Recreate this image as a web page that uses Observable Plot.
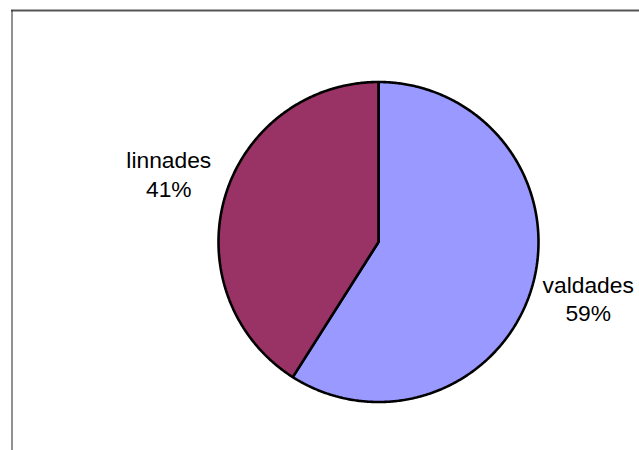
<!DOCTYPE html>
<html>
<head>
<meta charset="utf-8">
<script src="https://cdn.jsdelivr.net/npm/d3@7"></script>
<script src="https://cdn.jsdelivr.net/npm/@observablehq/plot@0.6"></script>
<style>
  html, body { margin: 0; padding: 0; background: #fff; }
  #chart { width: 639px; height: 450px; }
</style>
</head>
<body>
<div id="chart"></div>
<script>
const categories = ["valdades", "linnades"];
const values = [59, 41];
const percentLabels = ["59%", "41%"];
const colors = ["#9999FF", "#993366"];

const rows = categories.map((name, i) => ({name, value: values[i], label: percentLabels[i]}));
const arcs = d3.pie().sort(null).value(d => d.value)(rows);

// slice outlines: centre -> arc -> centre
const slicePoints = [];
for (const a of arcs) {
  const name = a.data.name;
  slicePoints.push({name, x: 0, y: 0});
  const n = Math.max(2, Math.ceil((a.endAngle - a.startAngle) / (Math.PI / 360)));
  for (let k = 0; k <= n; k++) {
    const t = a.startAngle + (a.endAngle - a.startAngle) * k / n;
    slicePoints.push({name, x: Math.sin(t), y: Math.cos(t)});
  }
  slicePoints.push({name, x: 0, y: 0});
}

const labelRows = arcs.map(a => {
  const m = (a.startAngle + a.endAngle) / 2;
  return {text: a.data.name + "\n" + a.data.label, x: 1.365 * Math.sin(m), y: 1.39 * Math.cos(m)};
});

const chart = Plot.plot({
  width: 639,
  height: 450,
  marginTop: 10,
  marginLeft: 11.5,
  marginRight: 0,
  marginBottom: 0,
  style: {fontFamily: "'Liberation Sans', Arial, sans-serif", background: "#fff"},
  x: {type: "linear", domain: [-1, 1], range: [218, 538], axis: null},
  y: {type: "linear", domain: [-1, 1], range: [401.5, 81.5], axis: null},
  color: {domain: categories, range: colors},
  marks: [
    Plot.frame({anchor: "top", stroke: "#555", strokeWidth: 2}),
    Plot.frame({anchor: "left", stroke: "#222", strokeWidth: 1}),
    Plot.line(slicePoints, {x: "x", y: "y", z: "name", fill: "name", stroke: "#000", strokeWidth: 2.6, strokeLinejoin: "miter"}),
    Plot.text(labelRows, {x: "x", y: "y", text: "text", fontSize: 22.8, lineHeight: 1.25, fill: "#000", dy: -6.4})
  ]
});
document.getElementById("chart").appendChild(chart);
</script>
</body>
</html>
